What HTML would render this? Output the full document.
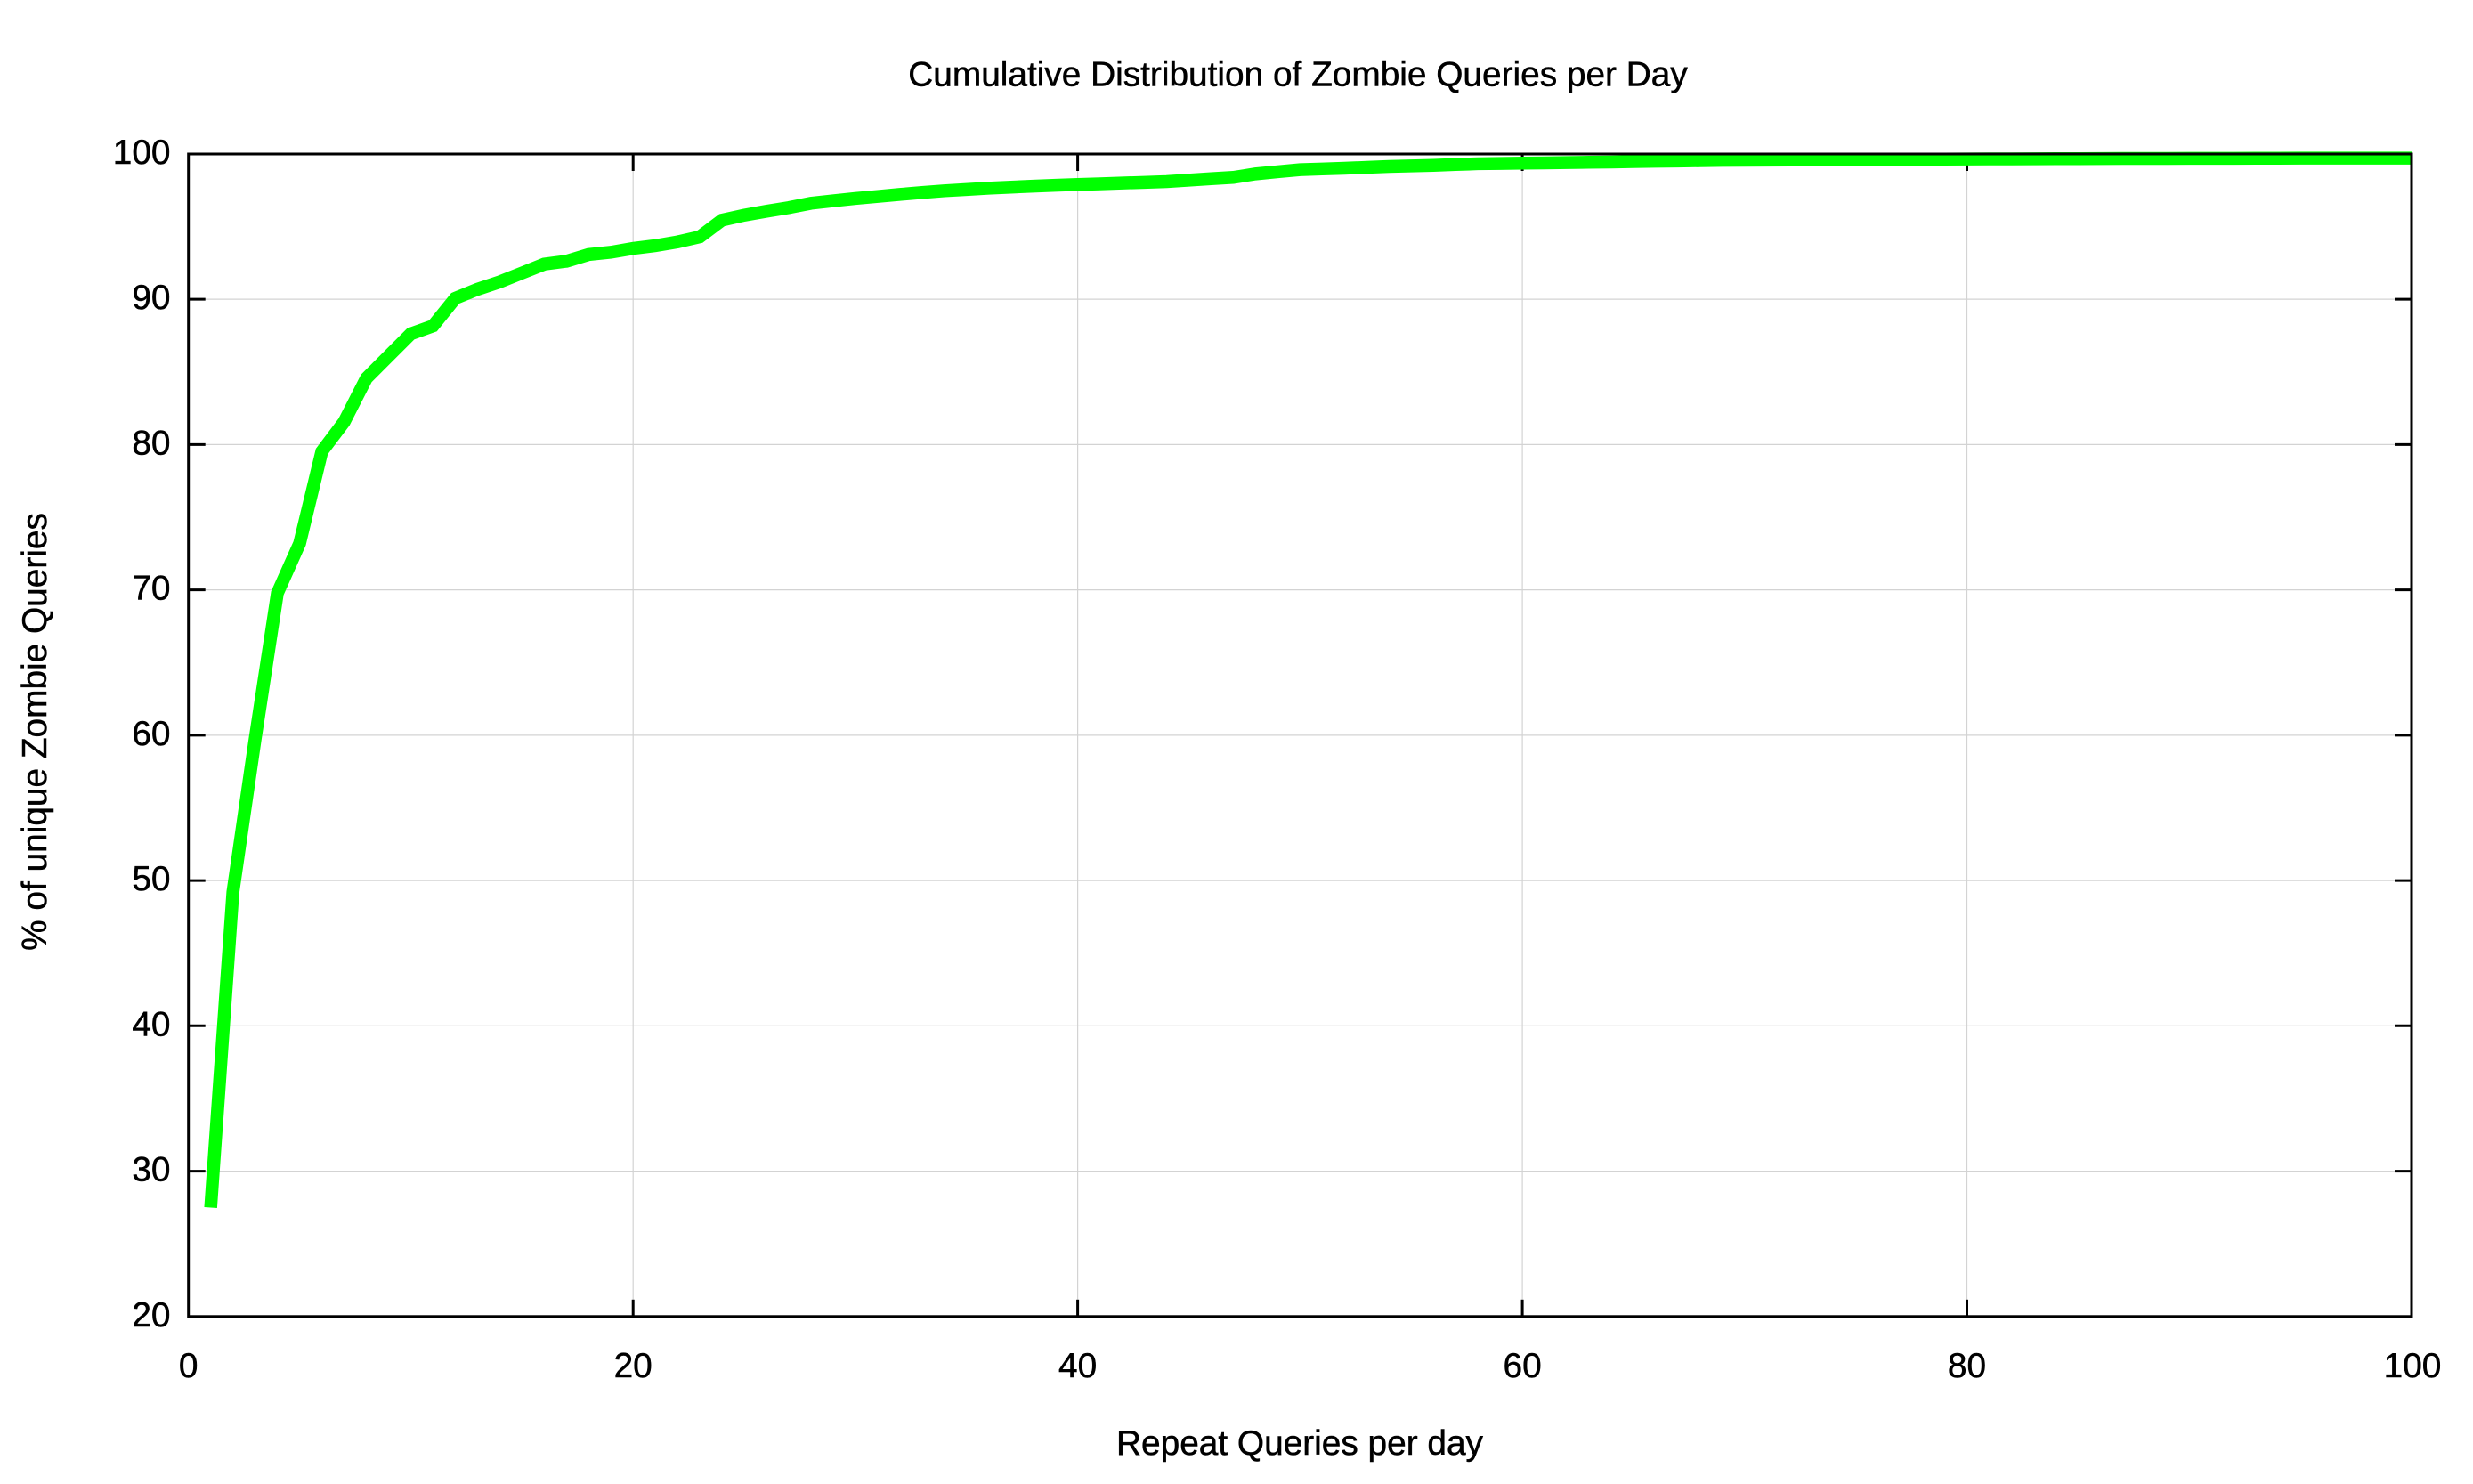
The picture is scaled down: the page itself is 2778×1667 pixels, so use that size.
<!DOCTYPE html>
<html>
<head>
<meta charset="utf-8">
<style>
  html, body { margin: 0; padding: 0; background: #ffffff; }
  body { width: 2778px; height: 1667px; overflow: hidden; }
  svg { display: block; }
  text { font-family: "Liberation Sans", "Helvetica", "Arial", sans-serif; font-size: 38.8px; fill: #000; stroke: #000; stroke-width: 0.5px; }
</style>
</head>
<body>
<svg width="2778" height="1667" viewBox="0 0 2778 1667" xmlns="http://www.w3.org/2000/svg">
  <rect x="0" y="0" width="2778" height="1667" fill="#ffffff"/>

  <!-- grid -->
  <g stroke="#d3d3d3" stroke-width="1.2" fill="none">
    <line x1="211.7" y1="1315.6" x2="2709" y2="1315.6"/>
    <line x1="211.7" y1="1152.3" x2="2709" y2="1152.3"/>
    <line x1="211.7" y1="989.1" x2="2709" y2="989.1"/>
    <line x1="211.7" y1="825.9" x2="2709" y2="825.9"/>
    <line x1="211.7" y1="662.6" x2="2709" y2="662.6"/>
    <line x1="211.7" y1="499.4" x2="2709" y2="499.4"/>
    <line x1="211.7" y1="336.1" x2="2709" y2="336.1"/>
    <line x1="711.2" y1="173" x2="711.2" y2="1478.8"/>
    <line x1="1210.6" y1="173" x2="1210.6" y2="1478.8"/>
    <line x1="1710.1" y1="173" x2="1710.1" y2="1478.8"/>
    <line x1="2209.5" y1="173" x2="2209.5" y2="1478.8"/>
  </g>

  <!-- ticks -->
  <g stroke="#000" stroke-width="3" fill="none">
    <line x1="211.7" y1="1315.6" x2="230.7" y2="1315.6"/><line x1="2709" y1="1315.6" x2="2690" y2="1315.6"/>
    <line x1="211.7" y1="1152.3" x2="230.7" y2="1152.3"/><line x1="2709" y1="1152.3" x2="2690" y2="1152.3"/>
    <line x1="211.7" y1="989.1" x2="230.7" y2="989.1"/><line x1="2709" y1="989.1" x2="2690" y2="989.1"/>
    <line x1="211.7" y1="825.9" x2="230.7" y2="825.9"/><line x1="2709" y1="825.9" x2="2690" y2="825.9"/>
    <line x1="211.7" y1="662.6" x2="230.7" y2="662.6"/><line x1="2709" y1="662.6" x2="2690" y2="662.6"/>
    <line x1="211.7" y1="499.4" x2="230.7" y2="499.4"/><line x1="2709" y1="499.4" x2="2690" y2="499.4"/>
    <line x1="211.7" y1="336.1" x2="230.7" y2="336.1"/><line x1="2709" y1="336.1" x2="2690" y2="336.1"/>
    <line x1="711.2" y1="1478.8" x2="711.2" y2="1459.8"/><line x1="711.2" y1="173" x2="711.2" y2="192"/>
    <line x1="1210.6" y1="1478.8" x2="1210.6" y2="1459.8"/><line x1="1210.6" y1="173" x2="1210.6" y2="192"/>
    <line x1="1710.1" y1="1478.8" x2="1710.1" y2="1459.8"/><line x1="1710.1" y1="173" x2="1710.1" y2="192"/>
    <line x1="2209.5" y1="1478.8" x2="2209.5" y2="1459.8"/><line x1="2209.5" y1="173" x2="2209.5" y2="192"/>
  </g>

  <!-- data curve -->
  <g transform="matrix(24.973 0 0 -16.3225 211.7 1805.25)">
    <polyline fill="none" stroke="#00ff00" stroke-width="14.5" stroke-linejoin="miter" stroke-linecap="butt" vector-effect="non-scaling-stroke"
      points="1,27.49 2,49.2 3,59.75 4,69.78 5,73.2 6,79.53 7,81.56 8,84.56 9,86.09 10,87.62 11,88.17 12,90.07 13,90.69 14,91.2 15,91.81 16,92.42 17,92.62 18,93.08 19,93.24 20,93.5 21,93.69 22,93.95 23,94.3 24,95.45 25,95.79 26,96.06 27,96.31 28,96.61 29,96.78 30,96.94 31,97.08 32,97.22 33,97.35 34,97.47 35,97.56 36,97.65 37,97.72 38,97.79 39,97.85 40,97.9 41,97.95 42,98.0 43,98.05 44,98.1 45,98.2 46,98.3 47,98.39 48,98.63 49,98.78 50,98.92 51,98.97 52,99.02 53,99.08 54,99.14 55,99.18 56,99.22 57,99.28 58,99.33 59,99.35 60,99.37 61,99.39 62,99.41 63,99.43 64,99.45 65,99.48 66,99.5 67,99.52 68,99.54 69,99.56 70,99.57 71,99.58 72,99.59 73,99.6 74,99.61 75,99.62 76,99.63 77,99.64 78,99.645 79,99.65 80,99.655 81,99.66 82,99.665 83,99.67 84,99.675 85,99.68 86,99.685 87,99.69 88,99.69 89,99.695 90,99.7 91,99.7 92,99.705 93,99.71 94,99.71 95,99.715 96,99.72 97,99.72 98,99.72 99,99.72 100,99.72"/>
  </g>

  <!-- border -->
  <rect x="211.7" y="173" width="2497.3" height="1305.8" fill="none" stroke="#000" stroke-width="3"/>

  <!-- y tick labels -->
  <g text-anchor="end">
    <text x="191.5" y="1489.8">20</text>
    <text x="191.5" y="1326.6">30</text>
    <text x="191.5" y="1163.3">40</text>
    <text x="191.5" y="1000.1">50</text>
    <text x="191.5" y="836.9">60</text>
    <text x="191.5" y="673.6">70</text>
    <text x="191.5" y="510.4">80</text>
    <text x="191.5" y="347.1">90</text>
    <text x="191.5" y="184">100</text>
  </g>

  <!-- x tick labels -->
  <g text-anchor="middle">
    <text x="211.7" y="1547">0</text>
    <text x="711.2" y="1547">20</text>
    <text x="1210.6" y="1547">40</text>
    <text x="1710.1" y="1547">60</text>
    <text x="2209.5" y="1547">80</text>
    <text x="2710" y="1547">100</text>
  </g>

  <!-- title and axis labels -->
  <text x="1458" y="96.5" text-anchor="middle">Cumulative Distribution of Zombie Queries per Day</text>
  <text x="1460" y="1634" text-anchor="middle">Repeat Queries per day</text>
  <text transform="translate(52,822) rotate(-90)" text-anchor="middle">% of unique Zombie Queries</text>
</svg>
</body>
</html>
